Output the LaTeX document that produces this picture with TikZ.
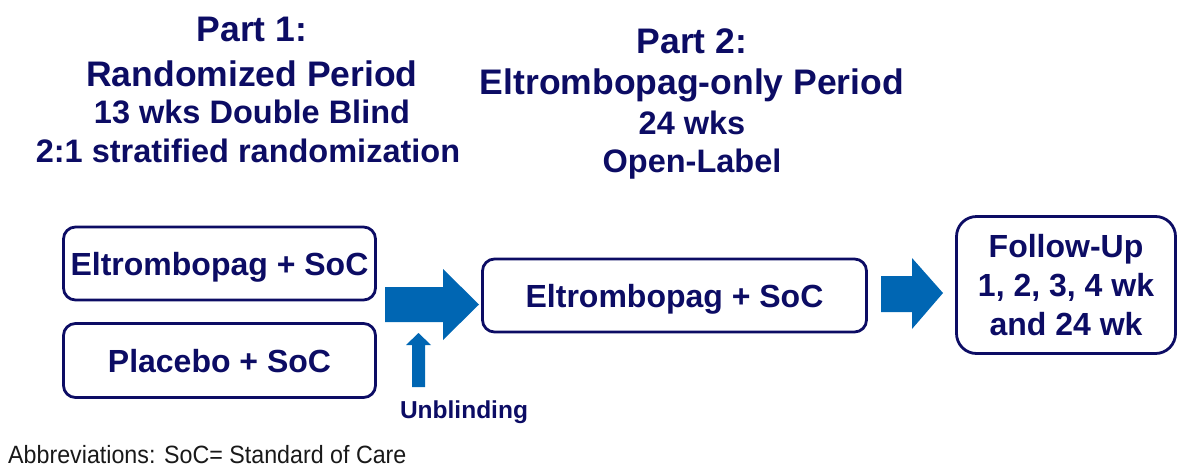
\documentclass[tikz,border=0pt]{standalone}
\usepackage{fontspec}
\setmainfont{Liberation Sans}
\definecolor{navy}{RGB}{12,12,100}
\definecolor{arrowblue}{RGB}{0,102,179}
\definecolor{notegray}{RGB}{25,25,25}
\begin{document}
\begin{tikzpicture}[x=1pt,y=-1pt,
  armbox/.style={draw=navy, line width=2.8pt, rounded corners=12pt, inner sep=0pt,
    font=\bfseries\fontsize{32}{39}\selectfont, text=navy, text height=23pt, text depth=0pt},
  fubox/.style={draw=navy, line width=2.8pt, rounded corners=20pt, inner sep=0pt,
    font=\bfseries\fontsize{32}{39}\selectfont, text=navy, align=center},
  headline/.style={font=\bfseries\fontsize{35.5}{40}\selectfont, text=navy, anchor=base},
  subline/.style={font=\bfseries\fontsize{32.5}{38}\selectfont, text=navy, anchor=base},
  blockarrow/.style={fill=arrowblue, draw=none}]
\useasboundingbox (0,0) rectangle (1182,466);

% Part 1 heading
\node[headline] (p1a) at (252,41) {Part 1:};
\node[headline] (p1b) at (252,86) {Randomized Period};
\node[subline] (p1c) at (252,123) {13 wks Double Blind};
\node[subline] (p1d) at (248,162) {2:1 stratified randomization};

% Part 2 heading
\node[headline] (p2a) at (692,53) {Part 2:};
\node[headline] (p2b) at (692,94) {Eltrombopag-only Period};
\node[subline] (p2c) at (692,134) {24 wks};
\node[subline] (p2d) at (692,172) {Open-Label};

% boxes
\node[armbox, minimum width=312pt, minimum height=73pt] (eltA) at (219.5,263.5) {Eltrombopag + SoC};
\node[armbox, minimum width=312pt, minimum height=74pt] (plac) at (219.5,360.5) {Placebo + SoC};
\node[armbox, minimum width=384pt, minimum height=73pt] (eltB) at (674.5,295.5) {Eltrombopag + SoC};
\node[fubox, minimum width=219pt, minimum height=137pt] (fu) at (1066,285) {Follow-Up\\1, 2, 3, 4 wk\\and 24 wk};

% block arrows
\fill[blockarrow] (385,287) -- (443,287) -- (443,269) -- (479,304.5) -- (443,340) -- (443,322) -- (385,322) -- cycle;
\fill[blockarrow] (881,276) -- (912,276) -- (912,258) -- (943,293) -- (912,329) -- (912,312) -- (881,312) -- cycle;
\fill[blockarrow] (412,387) -- (412,345) -- (406,345) -- (418.5,333) -- (431,345) -- (425,345) -- (425,387) -- cycle;

\node[font=\bfseries\fontsize{24.5}{28}\selectfont, text=navy, anchor=base] (unb) at (464,418) {Unblinding};

\node[font=\fontsize{25}{28}\selectfont, text=notegray, anchor=base west, inner sep=0pt, xscale=0.93] (abbr) at (8,463) {Abbreviations: SoC= Standard of Care};
\end{tikzpicture}
\end{document}
